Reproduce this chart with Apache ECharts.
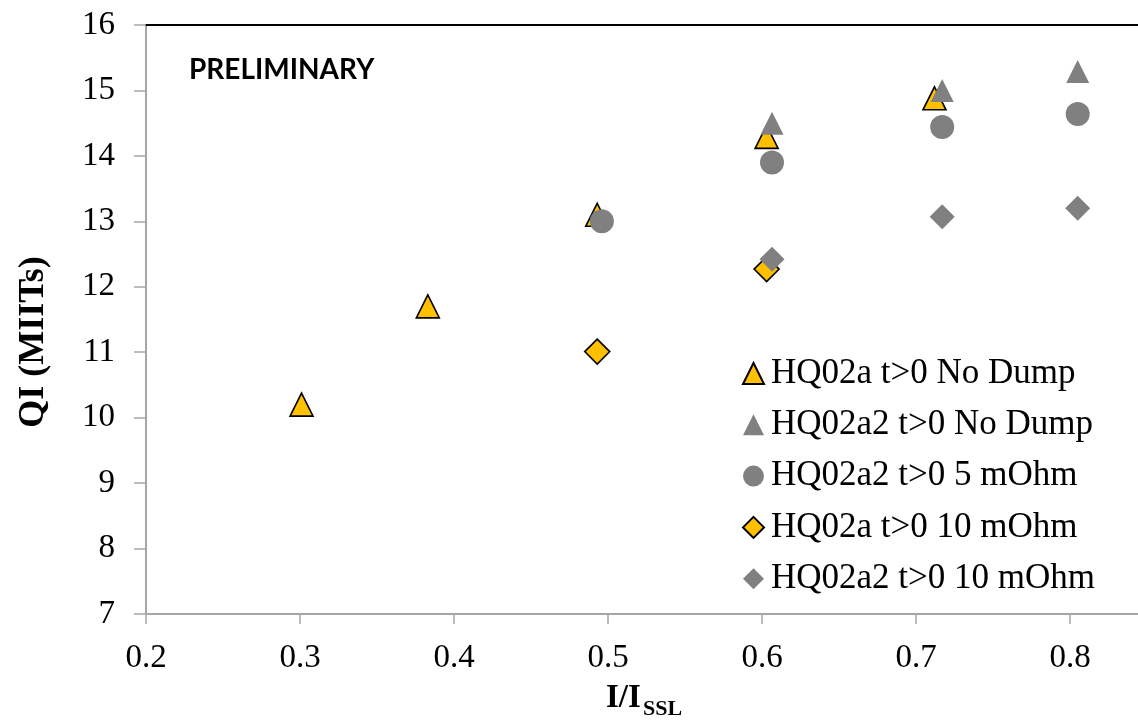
<!DOCTYPE html>
<html>
<head>
<meta charset="utf-8">
<script src="https://cdn.jsdelivr.net/npm/echarts@6/dist/echarts.min.js"></script>
<style>
html,body{margin:0;padding:0;background:#fff;}
#chart{width:1138px;height:722px;}
</style>
</head>
<body>
<div id="chart"></div>
<script>
// Data
const seriesNames = [
  'HQ02a t>0 No Dump',
  'HQ02a2 t>0 No Dump',
  'HQ02a2 t>0 5 mOhm',
  'HQ02a t>0 10 mOhm',
  'HQ02a2 t>0 10 mOhm'
];
const hq02aNoDump = [[0.301, 10.20], [0.383, 11.70], [0.493, 13.10], [0.603, 14.29], [0.712, 14.88]];
const hq02a2NoDump = [[0.6065, 14.50], [0.717, 15.00], [0.805, 15.29]];
const hq02a2_5mOhm = [[0.496, 13.00], [0.6065, 13.90], [0.717, 14.44], [0.805, 14.64]];
const hq02a_10mOhm = [[0.493, 11.01], [0.603, 12.27]];
const hq02a2_10mOhm = [[0.6065, 12.42], [0.717, 13.07], [0.805, 13.20]];

const xTicks = {min: 0.2, max: 0.85, interval: 0.1};
const yTicks = {min: 7, max: 16, interval: 1};
const xTitleMain = 'I/I';
const xTitleSub = 'SSL';
const yTitle = 'QI (MIITs)';
const stamp = 'PRELIMINARY';

const YELLOW = '#FFC000';
const GRAY = '#808080';
const serif = '"Liberation Serif", "Times New Roman", serif';

const chart = echarts.init(document.getElementById('chart'), null, {renderer: 'canvas'});

function mk(name, data, symbol, size, color, border) {
  return {
    name: name,
    type: 'scatter',
    data: data,
    symbol: symbol,
    symbolSize: size,
    itemStyle: border
      ? {color: color, borderColor: '#000', borderWidth: 1.6, opacity: 1}
      : {color: color, borderWidth: 0, opacity: 1},
    emphasis: {disabled: true}
  };
}

const option = {
  animation: false,
  backgroundColor: '#fff',
  grid: {left: 146, right: -9, top: 25, bottom: 108, outerBoundsMode: 'none', containLabel: false},
  xAxis: [{
    type: 'value',
    min: xTicks.min, max: xTicks.max, interval: xTicks.interval,
    position: 'bottom',
    axisLine: {show: true, lineStyle: {color: '#a6a6a6', width: 2}},
    axisTick: {show: true, length: 10, lineStyle: {color: '#a6a6a6', width: 1.5}},
    axisLabel: {
      show: true, margin: 28, showMaxLabel: false,
      color: '#000', fontFamily: serif, fontSize: 33,
      formatter: v => v.toFixed(1)
    },
    splitLine: {show: false}
  }, {
    type: 'value',
    min: xTicks.min, max: xTicks.max, interval: xTicks.interval,
    position: 'top',
    axisLine: {show: true, lineStyle: {color: '#000', width: 2}},
    axisTick: {show: false},
    axisLabel: {show: false},
    splitLine: {show: false}
  }],
  yAxis: {
    type: 'value',
    min: yTicks.min, max: yTicks.max, interval: yTicks.interval,
    axisLine: {show: true, lineStyle: {color: '#a6a6a6', width: 2}},
    axisTick: {show: true, length: 12, lineStyle: {color: '#a6a6a6', width: 1.5}},
    axisLabel: {show: true, margin: 31, color: '#000', fontFamily: serif, fontSize: 33},
    splitLine: {show: false}
  },
  legend: {
    show: true,
    orient: 'vertical',
    left: 737,
    top: 351,
    itemWidth: 21,
    itemHeight: 21,
    itemGap: 16.3,
    data: seriesNames,
    textStyle: {fontFamily: serif, fontSize: 35, lineHeight: 35, color: '#000', padding: [0, 0, 0, 2]},
    selectedMode: false
  },
  graphic: [{
    type: 'text',
    left: 189,
    top: 56,
    style: {text: stamp, fontFamily: 'Lato, "Open Sans", sans-serif', fontWeight: 'bold', fontSize: 28, fill: '#000'}
  }, {
    type: 'text',
    x: 606, y: 698,
    style: {text: xTitleMain, fontFamily: serif, fontWeight: 'bold', fontSize: 33, fill: '#000', align: 'left', verticalAlign: 'middle'}
  }, {
    type: 'text',
    x: 643, y: 709,
    style: {text: xTitleSub, fontFamily: serif, fontWeight: 'bold', fontSize: 22, fill: '#000', align: 'left', verticalAlign: 'middle'}
  }, {
    type: 'text',
    x: 34, y: 342,
    rotation: Math.PI / 2,
    style: {text: yTitle, fontFamily: serif, fontWeight: 'bold', fontSize: 36, fill: '#000', align: 'center', verticalAlign: 'middle'}
  }],
  series: [
    mk(seriesNames[0], hq02aNoDump, 'triangle', 23, YELLOW, true),
    mk(seriesNames[1], hq02a2NoDump, 'triangle', 23, GRAY, false),
    mk(seriesNames[2], hq02a2_5mOhm, 'circle', 24, GRAY, false),
    mk(seriesNames[3], hq02a_10mOhm, 'diamond', 25, YELLOW, true),
    mk(seriesNames[4], hq02a2_10mOhm, 'diamond', 25, GRAY, false)
  ]
};
chart.setOption(option);
</script>
</body>
</html>
